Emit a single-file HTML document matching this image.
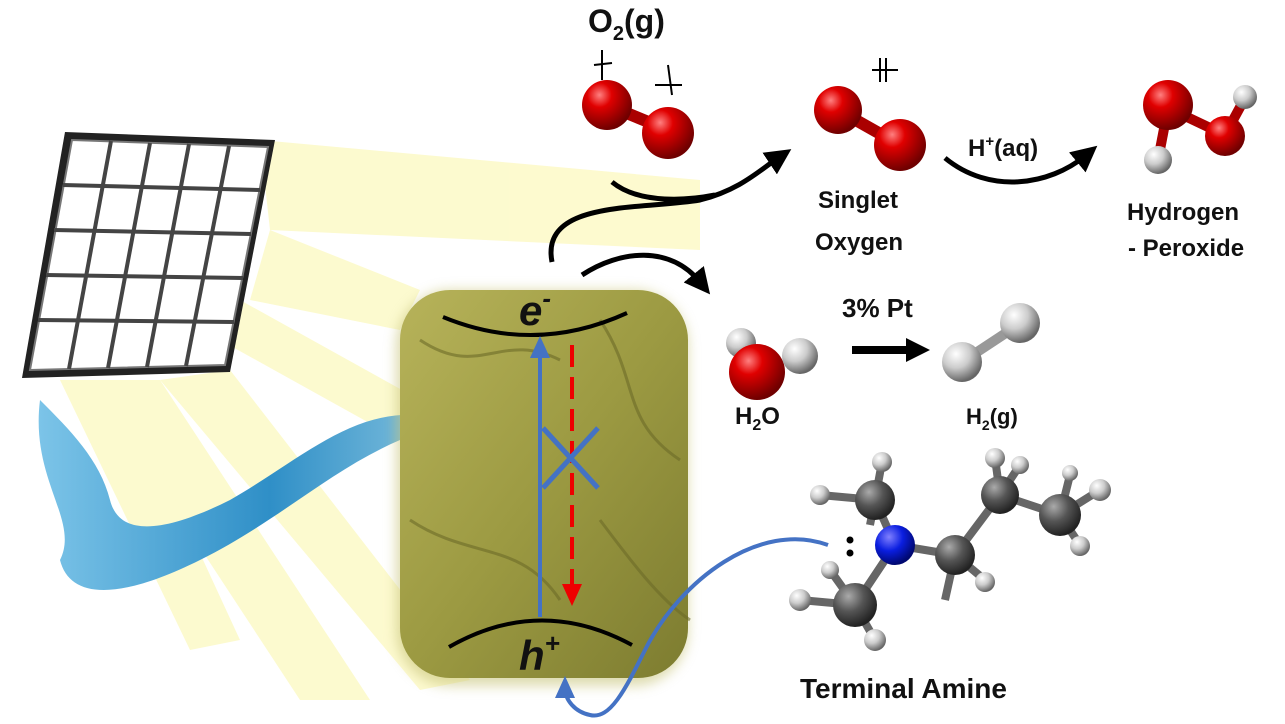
<!DOCTYPE html>
<html><head><meta charset="utf-8"><style>
html,body{margin:0;padding:0;background:#fff;}
svg{display:block;}
text{font-family:"Liberation Sans",sans-serif;font-weight:bold;fill:#111;}
</style></head><body>
<svg width="1285" height="724" viewBox="0 0 1285 724" xmlns="http://www.w3.org/2000/svg">
<defs>
<radialGradient id="red" cx="35%" cy="30%" r="70%"><stop offset="0" stop-color="#ff8080"/><stop offset="0.35" stop-color="#e00000"/><stop offset="1" stop-color="#700000"/></radialGradient>
<radialGradient id="wh" cx="35%" cy="30%" r="70%"><stop offset="0" stop-color="#fff"/><stop offset="0.5" stop-color="#ccc"/><stop offset="1" stop-color="#666"/></radialGradient>
<radialGradient id="gr" cx="35%" cy="30%" r="70%"><stop offset="0" stop-color="#aaa"/><stop offset="0.5" stop-color="#555"/><stop offset="1" stop-color="#222"/></radialGradient>
<radialGradient id="bl" cx="35%" cy="30%" r="70%"><stop offset="0" stop-color="#8080ff"/><stop offset="0.5" stop-color="#0a1ee0"/><stop offset="1" stop-color="#000870"/></radialGradient>
<linearGradient id="part" x1="0" y1="0" x2="1" y2="1"><stop offset="0" stop-color="#b7b35a"/><stop offset="0.5" stop-color="#9c9a42"/><stop offset="1" stop-color="#7d7c30"/></linearGradient>
<linearGradient id="water" x1="0" y1="0" x2="1" y2="0"><stop offset="0" stop-color="#7cc4e8"/><stop offset="0.5" stop-color="#2f8fc7"/><stop offset="1" stop-color="#9fd2e6"/></linearGradient>
<filter id="blur" x="-10%" y="-10%" width="120%" height="120%"><feGaussianBlur stdDeviation="6"/></filter>
<marker id="ak" markerWidth="30" markerHeight="30" refX="10" refY="13" orient="auto" markerUnits="userSpaceOnUse"><path d="M0,0 L26,13 L0,26 z" fill="#000"/></marker>
<marker id="ak2" markerWidth="30" markerHeight="30" refX="6" refY="12" orient="auto" markerUnits="userSpaceOnUse"><path d="M0,0 L24,12 L0,24 z" fill="#000"/></marker>
<marker id="ab" markerWidth="26" markerHeight="26" refX="10" refY="10" orient="auto" markerUnits="userSpaceOnUse"><path d="M0,0 L22,10 L0,20 z" fill="#4472c4"/></marker>
<marker id="ar" markerWidth="26" markerHeight="26" refX="4" refY="10" orient="auto" markerUnits="userSpaceOnUse"><path d="M0,0 L22,10 L0,20 z" fill="#e00"/></marker>
</defs>
<!-- rays -->
<g fill="#fbf6a8" opacity="0.55">
<polygon points="260,140 700,180 700,250 270,230"/>
<polygon points="270,230 420,290 400,330 250,300"/>
<polygon points="90,380 300,700 370,700 160,380"/>
<polygon points="160,380 420,690 470,680 230,370"/>
<polygon points="60,380 190,650 240,640 120,380"/>
<polygon points="240,300 420,400 400,440 220,340"/>
</g>
<!-- solar panel -->
<polygon points="65,132 275,140 230,372 22,378" fill="#222"/>
<polygon points="72,140 268,147 225,365 30,370" fill="#fff" stroke="#777" stroke-width="2"/>
<g stroke="#444" stroke-width="4" fill="none">
<line x1="111" y1="141" x2="69" y2="369"/><line x1="150" y1="143" x2="108" y2="368"/><line x1="189" y1="144" x2="147" y2="367"/><line x1="229" y1="146" x2="186" y2="366"/>
<line x1="63" y1="185" x2="260" y2="190"/><line x1="54" y1="230" x2="251" y2="234"/><line x1="46" y1="275" x2="243" y2="278"/><line x1="38" y1="320" x2="234" y2="322"/>
</g>
<!-- water -->
<path d="M40,400 C30,480 80,520 60,560 C70,600 120,600 200,560 C280,520 330,470 400,440 C450,425 480,450 500,520 C490,470 470,420 420,415 C350,410 300,460 230,500 C170,530 120,540 110,500 C100,460 70,430 40,400 Z" fill="url(#water)"/>
<!-- particle -->
<rect x="396" y="290" width="292" height="396" rx="55" fill="#c8c47a" opacity="0.6" filter="url(#blur)"/>
<rect x="400" y="290" width="288" height="388" rx="50" fill="url(#part)"/>
<g stroke="#6d6b28" stroke-width="3" fill="none" opacity="0.6">
<path d="M420,340 C480,380 500,330 560,360"/><path d="M600,320 C640,380 620,420 680,460"/><path d="M410,520 C470,560 520,540 560,600"/><path d="M600,520 C630,560 660,600 690,620"/>
</g>
<!-- arcs -->
<path d="M443,317 Q535,355 627,313" stroke="#000" stroke-width="4" fill="none"/>
<path d="M449,647 Q540,595 632,645" stroke="#000" stroke-width="4" fill="none"/>
<text x="519" y="325" font-size="42" font-style="italic">e<tspan font-size="26" dy="-18">-</tspan></text>
<text x="519" y="670" font-size="42" font-style="italic">h<tspan font-size="26" dy="-18">+</tspan></text>
<line x1="540" y1="617" x2="540" y2="348" stroke="#4472c4" stroke-width="4" marker-end="url(#ab)"/>
<line x1="572" y1="345" x2="572" y2="588" stroke="#e00" stroke-width="4" stroke-dasharray="22,10" marker-end="url(#ar)"/>
<line x1="543" y1="428" x2="598" y2="488" stroke="#4472c4" stroke-width="5"/>
<line x1="598" y1="428" x2="543" y2="488" stroke="#4472c4" stroke-width="5"/>
<!-- black arrows -->
<path d="M552,262 C540,200 640,210 700,200 C740,190 760,170 778,158" stroke="#000" stroke-width="5" fill="none" marker-end="url(#ak)"/>
<path d="M612,182 C640,205 690,200 715,195" stroke="#000" stroke-width="5" fill="none"/>
<path d="M582,275 C620,250 670,245 700,282" stroke="#000" stroke-width="5" fill="none" marker-end="url(#ak)"/>
<path d="M945,158 C990,195 1050,185 1085,156" stroke="#000" stroke-width="5" fill="none" marker-end="url(#ak)"/>
<line x1="852" y1="350" x2="912" y2="350" stroke="#000" stroke-width="8" marker-end="url(#ak2)"/>
<!-- O2 -->
<text x="588" y="32" font-size="32">O<tspan font-size="20" dy="8">2</tspan><tspan dy="-8">(g)</tspan></text>
<line x1="607" y1="105" x2="668" y2="130" stroke="#a00" stroke-width="12"/>
<circle cx="607" cy="105" r="25" fill="url(#red)"/><circle cx="668" cy="133" r="26" fill="url(#red)"/>
<g stroke="#000" stroke-width="2"><line x1="602" y1="50" x2="602" y2="80"/><line x1="594" y1="65" x2="612" y2="63"/><line x1="668" y1="65" x2="672" y2="95"/><line x1="655" y1="85" x2="682" y2="85"/></g>
<!-- singlet -->
<line x1="838" y1="110" x2="900" y2="145" stroke="#a00" stroke-width="12"/>
<circle cx="838" cy="110" r="24" fill="url(#red)"/><circle cx="900" cy="145" r="26" fill="url(#red)"/>
<g stroke="#000" stroke-width="2"><line x1="880" y1="58" x2="880" y2="82"/><line x1="886" y1="58" x2="886" y2="82"/><line x1="872" y1="70" x2="898" y2="70"/></g>
<text x="818" y="208" font-size="24">Singlet</text>
<text x="815" y="250" font-size="24">Oxygen</text>
<text x="968" y="156" font-size="24">H<tspan font-size="15" dy="-10">+</tspan><tspan dy="10">(aq)</tspan></text>
<!-- H2O2 -->
<g stroke="#a00" stroke-width="10"><line x1="1168" y1="108" x2="1225" y2="135"/><line x1="1168" y1="108" x2="1158" y2="160"/><line x1="1225" y1="135" x2="1245" y2="98"/></g>
<circle cx="1158" cy="160" r="14" fill="url(#wh)"/><circle cx="1245" cy="97" r="12" fill="url(#wh)"/>
<circle cx="1168" cy="105" r="25" fill="url(#red)"/><circle cx="1225" cy="136" r="20" fill="url(#red)"/>
<text x="1127" y="220" font-size="24">Hydrogen</text>
<text x="1128" y="256" font-size="24">- Peroxide</text>
<!-- H2O -->
<circle cx="741" cy="343" r="15" fill="url(#wh)"/>
<circle cx="757" cy="372" r="28" fill="url(#red)"/>
<circle cx="800" cy="356" r="18" fill="url(#wh)"/>
<text x="735" y="424" font-size="24">H<tspan font-size="16" dy="6">2</tspan><tspan dy="-6">O</tspan></text>
<text x="842" y="317" font-size="26">3% Pt</text>
<!-- H2 -->
<line x1="962" y1="362" x2="1018" y2="325" stroke="#999" stroke-width="10"/>
<circle cx="962" cy="362" r="20" fill="url(#wh)"/><circle cx="1020" cy="323" r="20" fill="url(#wh)"/>
<text x="966" y="424" font-size="22">H<tspan font-size="14" dy="6">2</tspan><tspan dy="-6">(g)</tspan></text>
<!-- amine -->
<g stroke="#666" stroke-width="8">
<line x1="895" y1="545" x2="875" y2="500"/><line x1="895" y1="545" x2="955" y2="555"/><line x1="895" y1="545" x2="855" y2="605"/>
<line x1="955" y1="555" x2="1000" y2="495"/><line x1="1000" y1="495" x2="1060" y2="515"/>
<line x1="875" y1="500" x2="820" y2="495"/><line x1="875" y1="500" x2="882" y2="462"/><line x1="875" y1="500" x2="870" y2="525"/>
<line x1="855" y1="605" x2="800" y2="600"/><line x1="855" y1="605" x2="875" y2="640"/><line x1="855" y1="605" x2="830" y2="570"/>
<line x1="955" y1="555" x2="985" y2="580"/><line x1="955" y1="555" x2="945" y2="600"/><line x1="1000" y1="495" x2="995" y2="458"/><line x1="1000" y1="495" x2="1020" y2="465"/>
<line x1="1060" y1="515" x2="1100" y2="490"/><line x1="1060" y1="515" x2="1080" y2="545"/><line x1="1060" y1="515" x2="1070" y2="475"/>
</g>
<g fill="url(#wh)">
<circle cx="820" cy="495" r="10"/><circle cx="882" cy="462" r="10"/><circle cx="800" cy="600" r="11"/><circle cx="875" cy="640" r="11"/><circle cx="830" cy="570" r="9"/>
<circle cx="985" cy="582" r="10"/><circle cx="995" cy="458" r="10"/><circle cx="1020" cy="465" r="9"/><circle cx="1100" cy="490" r="11"/><circle cx="1080" cy="546" r="10"/><circle cx="1070" cy="473" r="8"/>
</g>
<g fill="url(#gr)"><circle cx="875" cy="500" r="20"/><circle cx="955" cy="555" r="20"/><circle cx="855" cy="605" r="22"/><circle cx="1000" cy="495" r="19"/><circle cx="1060" cy="515" r="21"/></g>
<circle cx="895" cy="545" r="20" fill="url(#bl)"/>
<circle cx="850" cy="540" r="3.5" fill="#000"/><circle cx="850" cy="553" r="3.5" fill="#000"/>
<text x="800" y="698" font-size="28">Terminal Amine</text>
<!-- blue curve -->
<path d="M828,545 C760,520 680,580 645,650 C625,690 610,720 590,715 C575,712 565,700 565,688" stroke="#4472c4" stroke-width="4" fill="none" marker-end="url(#ab)"/>
</svg>
</body></html>
